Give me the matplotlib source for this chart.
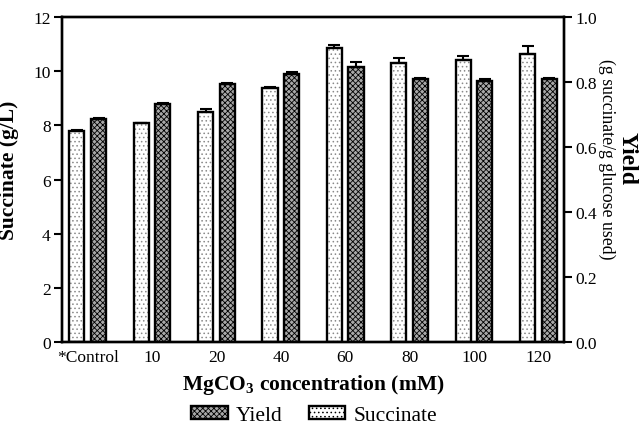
import matplotlib
matplotlib.use("Agg")
import matplotlib.pyplot as plt
import numpy as np
from matplotlib.patches import Patch

categories = ["*Control", "10", "20", "40", "60", "80", "100", "120"]
succinate = [7.80, 8.07, 8.48, 9.39, 10.85, 10.31, 10.41, 10.62]
succinate_err = [0.03, 0.02, 0.12, 0.04, 0.11, 0.16, 0.14, 0.30]
yield_vals = [0.685, 0.732, 0.793, 0.826, 0.847, 0.809, 0.804, 0.808]
yield_err = [0.003, 0.004, 0.004, 0.004, 0.014, 0.003, 0.005, 0.003]

plt.rcParams['font.family'] = ['Liberation Serif', 'DejaVu Serif']
plt.rcParams['mathtext.fontset'] = 'custom'
plt.rcParams['mathtext.rm'] = 'Liberation Serif'
plt.rcParams['mathtext.bf'] = 'Liberation Serif:bold'
plt.rcParams['hatch.linewidth'] = 0.6

fig = plt.figure(figsize=(6.41, 4.27), dpi=100)
ax = fig.add_axes([0.0967, 0.1967, 0.7833, 0.7611])
ax2 = ax.twinx()

x = np.arange(len(categories))
w = 0.235
off = 0.168
SUC_HATCH = '....'
Y_HATCH = 'xxxxxx'

# succinate: gray dotted fill, black outline
ax.bar(x - off, succinate, width=w, facecolor='white', edgecolor='#8a8a8a',
       linewidth=0, hatch=SUC_HATCH, zorder=2)
ax.bar(x - off, succinate, width=w, facecolor='none', edgecolor='black',
       linewidth=1.7, zorder=2.5)
ax.errorbar(x - off, succinate, yerr=[np.zeros(len(x)), succinate_err], fmt='none',
            ecolor='black', elinewidth=1.5, capsize=4, capthick=1.5, zorder=3)

ax2.bar(x + off, yield_vals, width=w, facecolor='#a8a8a8', edgecolor='black',
        linewidth=1.7, hatch=Y_HATCH, zorder=2)
ax2.errorbar(x + off, yield_vals, yerr=[np.zeros(len(x)), yield_err], fmt='none',
             ecolor='black', elinewidth=1.5, capsize=4, capthick=1.5, zorder=3)

ax.set_xlim(-0.4, 7.4)
ax.set_ylim(0, 12)
ax.set_yticks(np.arange(0, 13, 2))
ax2.set_ylim(0, 1.0)
ax2.set_yticks(np.arange(0, 1.01, 0.2))
ax2.set_yticklabels([f"{v:.1f}" for v in np.arange(0, 1.01, 0.2)])

ax.set_xticks(x)
ax.set_xticklabels(categories)
ax.tick_params(axis='x', length=0, pad=5, labelsize=12.5)
ax.tick_params(axis='y', length=6, width=1.5, direction='out', pad=2, labelsize=12.5)
ax2.tick_params(axis='y', length=6, width=1.5, direction='out', pad=2, labelsize=12.5)

for a in (ax, ax2):
    for s in a.spines.values():
        s.set_linewidth(1.7)

ax.set_ylabel("Succinate (g/L)", fontsize=15.5, fontweight='bold', labelpad=4)
ax.yaxis.set_label_coords(-0.085, 0.532)
ax.set_xlabel(r"MgCO$_\mathbf{3}$ concentration (mM)", fontsize=15.5, fontweight='bold', labelpad=5)

fig.text(0.947, 0.628, "(g succinate/g glucose used)", rotation=270, fontsize=12.8,
         ha='center', va='center')
fig.text(0.979, 0.628, "Yield", rotation=270, fontsize=17, fontweight='bold',
         ha='center', va='center')

handles = [Patch(facecolor='#a8a8a8', edgecolor='black', hatch=Y_HATCH, linewidth=1.7),
           Patch(facecolor='white', edgecolor='black', hatch=SUC_HATCH, linewidth=1.7)]
fig.legend(handles, ["Yield", "Succinate"], loc='center', bbox_to_anchor=(0.49, 0.025),
           ncol=2, frameon=False, fontsize=15.5, handlelength=1.7, handleheight=0.6,
           columnspacing=1.2, handletextpad=0.37, borderpad=0.1)

fig.savefig("out.png", dpi=100)
